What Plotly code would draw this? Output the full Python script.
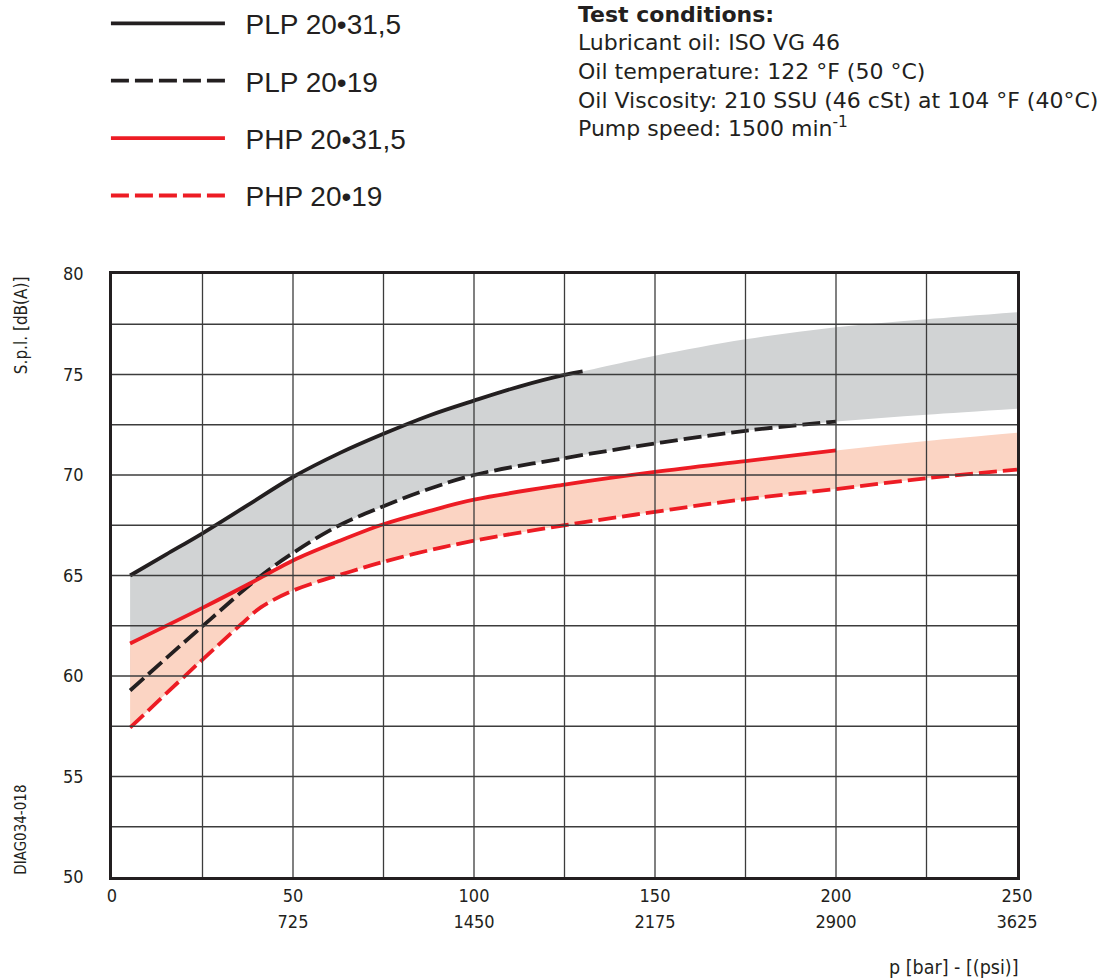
import plotly.graph_objects as go

# ---------------- data ----------------
pressure_ticks = [0, 50, 100, 150, 200, 250]
psi_ticks = [50, 100, 150, 200, 250]
psi_labels = ["725", "1450", "2175", "2900", "3625"]
spl_ticks = [50, 55, 60, 65, 70, 75, 80]
grid_x = [0, 25, 50, 75, 100, 125, 150, 175, 200, 225, 250]
grid_y = [50, 52.5, 55, 57.5, 60, 62.5, 65, 67.5, 70, 72.5, 75, 77.5, 80]

# PLP 20•31,5 (solid black)
plp315_x = [5, 15, 25, 37.5, 50, 63, 75, 87.5, 100, 112.5, 125, 130]
plp315_y = [65.0, 66.05, 67.1, 68.5, 69.9, 71.1, 72.05, 72.95, 73.7, 74.4, 74.98, 75.15]
# grey band upper edge beyond the curve
plp315_ext_x = [130, 150, 175, 200, 225, 250]
plp315_ext_y = [75.15, 75.93, 76.75, 77.35, 77.75, 78.1]

# PLP 20•19 (dashed black)
plp19_x = [5, 25, 41, 50, 62.3, 75, 87.5, 100, 125, 150, 175, 200]
plp19_y = [59.28, 62.48, 64.96, 66.12, 67.45, 68.45, 69.3, 70.0, 70.84, 71.57, 72.2, 72.66]
plp19_ext_x = [200, 225, 250]
plp19_ext_y = [72.66, 73.0, 73.3]

# PHP 20•31,5 (solid red)
php315_x = [5, 25, 41, 50, 62.5, 75, 87.5, 100, 125, 150, 175, 200]
php315_y = [61.62, 63.39, 64.88, 65.75, 66.7, 67.55, 68.2, 68.77, 69.52, 70.15, 70.69, 71.22]
php315_ext_x = [200, 225, 250]
php315_ext_y = [71.22, 71.69, 72.1]

# PHP 20•19 (dashed red)
php19_x = [5, 25, 35.6, 41, 50, 66, 75, 87.5, 100, 125, 150, 175, 200, 225, 250]
php19_y = [57.43, 60.82, 62.56, 63.4, 64.25, 65.2, 65.68, 66.25, 66.73, 67.5, 68.17, 68.8, 69.3, 69.84, 70.27]

series_names = ["PLP 20•31,5", "PLP 20•19", "PHP 20•31,5", "PHP 20•19"]

test_lines = ["<b>Test conditions:</b>",
              "Lubricant oil: ISO VG 46",
              "Oil temperature: 122 °F (50 °C)",
              "Oil Viscosity: 210 SSU (46 cSt) at 104 °F (40°C)",
              "Pump speed: 1500 min<sup>-1</sup>"]

# ---------------- styles ----------------
BLACK = "#231f20"
RED = "#ed1c24"
GREY_FILL = "#d1d3d4"
SALMON_FILL = "#fbd4c3"
GRID = "#3c3c3c"
NARROW = "DejaVu Sans Condensed, Liberation Sans, Arial"
SANS = "Liberation Sans, Arial, sans-serif"
WIDE = "DejaVu Sans, Liberation Sans, sans-serif"
DASH = "18px,6px"
LW = 3.8
PAD = "\u00a0\u00a0"

fig = go.Figure()

# grey band
fig.add_trace(go.Scatter(x=plp19_x + plp19_ext_x[1:], y=plp19_y + plp19_ext_y[1:],
                         mode="lines", line=dict(width=0, shape="spline", color=GREY_FILL),
                         showlegend=False, hoverinfo="skip"))
fig.add_trace(go.Scatter(x=plp315_x + plp315_ext_x[1:], y=plp315_y + plp315_ext_y[1:],
                         mode="lines", line=dict(width=0, shape="spline", color=GREY_FILL),
                         fill="tonexty", fillcolor=GREY_FILL,
                         showlegend=False, hoverinfo="skip"))
# salmon band
fig.add_trace(go.Scatter(x=php19_x, y=php19_y,
                         mode="lines", line=dict(width=0, shape="spline", color=SALMON_FILL),
                         showlegend=False, hoverinfo="skip"))
fig.add_trace(go.Scatter(x=php315_x + php315_ext_x[1:], y=php315_y + php315_ext_y[1:],
                         mode="lines", line=dict(width=0, shape="spline", color=SALMON_FILL),
                         fill="tonexty", fillcolor=SALMON_FILL,
                         showlegend=False, hoverinfo="skip"))

# curves
fig.add_trace(go.Scatter(x=plp315_x, y=plp315_y, mode="lines", name=PAD + series_names[0],
                         legendgroup="a", line=dict(color=BLACK, width=LW, shape="spline")))
fig.add_trace(go.Scatter(x=plp19_x, y=plp19_y, mode="lines", name=PAD + series_names[1],
                         legendgroup="b", line=dict(color=BLACK, width=LW, shape="spline", dash=DASH)))
fig.add_trace(go.Scatter(x=php315_x, y=php315_y, mode="lines", name=PAD + series_names[2],
                         legendgroup="c", line=dict(color=RED, width=LW, shape="spline")))
fig.add_trace(go.Scatter(x=php19_x, y=php19_y, mode="lines", name=PAD + series_names[3],
                         legendgroup="d", line=dict(color=RED, width=LW, shape="spline", dash=DASH)))

# carrier trace for the psi tick-label axis
fig.add_trace(go.Scatter(x=psi_ticks[:1], y=[None], xaxis="x2", yaxis="y", mode="lines",
                         showlegend=False, hoverinfo="skip"))

# grid drawn above the bands
shapes = []
for gx in grid_x[1:-1]:
    shapes.append(dict(type="line", xref="x", yref="y", x0=gx, x1=gx, y0=50, y1=80,
                       line=dict(color=GRID, width=1.3), layer="above"))
for gy in grid_y[1:-1]:
    shapes.append(dict(type="line", xref="x", yref="y", x0=0, x1=250, y0=gy, y1=gy,
                       line=dict(color=GRID, width=1.3), layer="above"))

annotations = []
test_y = [1.4068, 1.3594, 1.3113, 1.2642, 1.2172]
for txt, ty in zip(test_lines, test_y):
    annotations.append(dict(xref="paper", yref="paper", x=0.5127, y=ty,
                            xanchor="left", yanchor="bottom", align="left", showarrow=False,
                            text=txt, font=dict(family=WIDE, size=22, color=BLACK)))
annotations += [
    dict(xref="paper", yref="paper", x=-0.0998, y=0.9146, xanchor="center", yanchor="middle",
         textangle=-90, showarrow=False, text="S.p.l. [dB(A)]",
         font=dict(family=NARROW, size=17, color=BLACK)),
    dict(xref="paper", yref="paper", x=-0.1009, y=0.0, xanchor="center", yanchor="bottom",
         textangle=-90, showarrow=False, text="DIAG034-018",
         font=dict(family=NARROW, size=15, color=BLACK)),
    dict(xref="paper", yref="paper", x=1.0044, y=-0.1493, xanchor="right", yanchor="middle",
         showarrow=False, text="p [bar] - [(psi)]",
         font=dict(family=NARROW, size=19.5, color=BLACK)),
]

fig.update_layout(
    width=1104, height=979,
    margin=dict(l=112, r=87, t=274, b=102, autoexpand=False),
    paper_bgcolor="white", plot_bgcolor="white",
    shapes=shapes, annotations=annotations,
    legend=dict(xref="paper", yref="paper", x=-0.0067, y=1.4567,
                xanchor="left", yanchor="top", itemwidth=114,
                tracegroupgap=18, font=dict(family=SANS, size=28, color=BLACK),
                bgcolor="rgba(0,0,0,0)"),
    xaxis=dict(range=[0, 250], tickvals=pressure_ticks,
               ticktext=[str(p) for p in pressure_ticks],
               showgrid=False, zeroline=False, showline=True, mirror=True,
               linecolor=BLACK, linewidth=2.5, ticks="", ticklabelstandoff=1,
               tickfont=dict(family=NARROW, size=18, color=BLACK)),
    xaxis2=dict(range=[0, 250], overlaying="x", anchor="y", side="bottom",
                tickvals=psi_ticks, ticktext=psi_labels,
                showgrid=False, zeroline=False, showline=False, ticks="",
                ticklabelstandoff=32,
                tickfont=dict(family=NARROW, size=18, color=BLACK)),
    yaxis=dict(range=[50, 80], tickvals=spl_ticks,
               showgrid=False, zeroline=False, showline=True, mirror=True,
               linecolor=BLACK, linewidth=2.5, ticks="", ticklabelstandoff=22,
               tickfont=dict(family=NARROW, size=18, color=BLACK)),
)

fig.write_html("out.html", config={"displayModeBar": False},
               post_script="document.body.style.margin='0px';")
